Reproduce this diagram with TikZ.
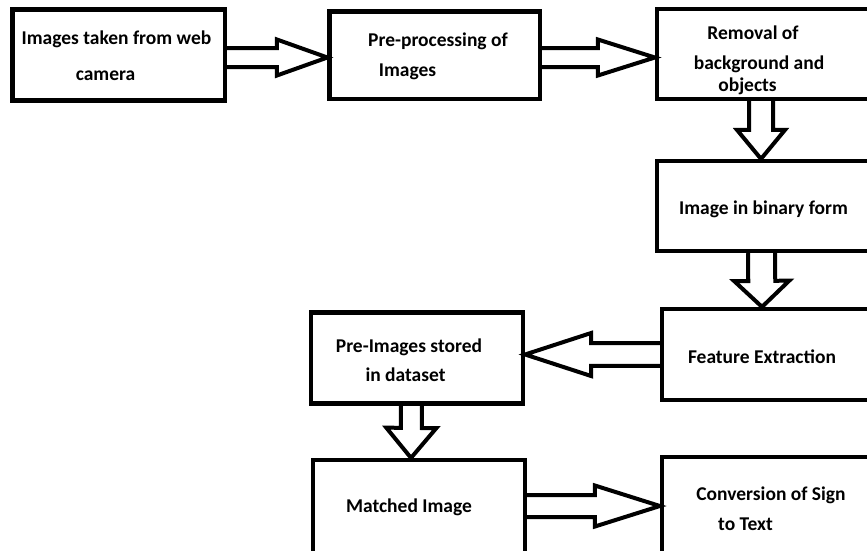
\documentclass[tikz,border=0pt]{standalone}
\usepackage{fontspec}
\setmainfont{Carlito}
\usetikzlibrary{calc}
\tikzset{
  box/.style={draw, line width=4.2pt, inner sep=0pt, anchor=center},
  arrowline/.style={draw, line width=4pt, line join=miter, miter limit=4},
  lbl/.style={anchor=base, inner sep=0pt, font=\fontsize{19.5}{23}\selectfont\bfseries}
}
\newcommand\blockarrow[5]{%
  \coordinate (ba-s) at #1;
  \coordinate (ba-e) at #2;
  \coordinate (ba-h) at ($(ba-e)!#5pt!(ba-s)$);
  \draw[arrowline]
    ($(ba-s)!#3pt!90:(ba-e)$) --
    ($(ba-h)!#3pt!90:(ba-e)$) --
    ($(ba-h)!#4pt!90:(ba-e)$) --
    (ba-e) --
    ($(ba-h)!#4pt!-90:(ba-e)$) --
    ($(ba-h)!#3pt!-90:(ba-e)$) --
    ($(ba-s)!#3pt!-90:(ba-e)$);
}
\begin{document}
\begin{tikzpicture}[x=1pt,y=-1pt]
\useasboundingbox (0,0) rectangle (867,550);
\clip (0,0) rectangle (867,550);
\fill[white] (0,0) rectangle (867,550);
% boxes
\node[box, minimum width=212.5pt, minimum height=91pt]  (b1) at (118.75,55) {};
\node[box, minimum width=210.5pt, minimum height=87.5pt] (b2) at (434.75,55.25) {};
\node[box, minimum width=223pt, minimum height=90pt]    (b3) at (768.5,54) {};
\node[box, minimum width=223pt, minimum height=90pt]    (b4) at (768.5,206) {};
\node[box, minimum width=218pt, minimum height=91pt]    (b5) at (771,354.5) {};
\node[box, minimum width=212pt, minimum height=91pt]    (b6) at (417,358) {};
\node[box, minimum width=212pt, minimum height=100pt]   (b7) at (419,510) {};
\node[box, minimum width=218pt, minimum height=103pt]   (b8) at (771,508.5) {};
% texts
\node[lbl] (t1a) at (116.5,44) {Images taken from web};
\node[lbl] (t1b) at (105.5,80) {camera};
\node[lbl] (t2a) at (438,46.5) {Pre-processing of};
\node[lbl] (t2b) at (407.5,76.5) {Images};
\node[lbl] (t3a) at (753,39) {Removal of};
\node[lbl] (t3b) at (759,69) {background and};
\node[lbl] (t3c) at (747.5,91) {objects};
\node[lbl] (t4a) at (763.5,214) {Image in binary form};
\node[lbl] (t5a) at (762,363) {Feature Extraction};
\node[lbl] (t6a) at (409,352) {Pre-Images stored};
\node[lbl] (t6b) at (405.5,381.5) {in dataset};
\node[lbl] (t7a) at (409,512) {Matched Image};
\node[lbl] (t8a) at (771,500.5) {Conversion of Sign};
\node[lbl] (t8b) at (745.5,530.5) {to Text};
% block arrows
\blockarrow{($(b1.east)+(0,2.5)$)}{($(b2.west)+(0,2.25)$)}{9.5}{18}{50.5}
\blockarrow{($(b2.east)+(0,2.25)$)}{($(b3.west)+(0,3.5)$)}{9.5}{18}{57}
\blockarrow{($(b3.south)+(-7.5,0)$)}{($(b4.north)+(-7.5,0)$)}{12}{24}{29}
\blockarrow{($(b4.south)+(-7,0)$)}{($(b5.north)+(-9,0)$)}{13.5}{27.5}{26}
\blockarrow{(b5.west)}{(b6.east |- b5.west)}{11.3}{21.5}{66}
\blockarrow{($(b6.south)+(-5.5,0)$)}{($(b7.north)+(-8,0)$)}{10.5}{25}{30}
\blockarrow{($(b7.east)+(0,-4)$)}{($(b8.west)+(0,-2.5)$)}{11}{20.5}{65}
\end{tikzpicture}
\end{document}
